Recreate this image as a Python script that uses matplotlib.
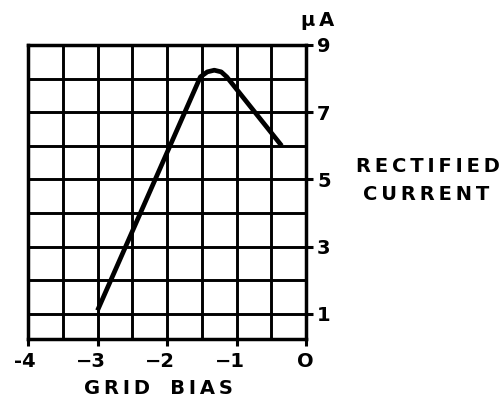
import numpy as np
import matplotlib
matplotlib.use("Agg")
from matplotlib import pyplot as plt
from matplotlib.transforms import offset_copy

# rectified current vs grid bias
grid_bias = [-3.0, -1.52, -1.42, -1.32, -1.22, -1.14, -0.35]
current_ua = [1.1, 8.05, 8.2, 8.25, 8.2, 8.05, 6.0]

x_ticks = [-4, -3, -2, -1, 0]
x_tick_labels = ["-4", "\u22123", "\u22122", "\u22121", "O"]
y_ticks = [1, 3, 5, 7, 9]
y_tick_labels = ["1", "3", "5", "7", "9"]

plt.rcParams['font.family'] = ['DejaVu Sans']
plt.rcParams['font.weight'] = 'bold'


def spaced(s):
    return "\u2009".join(s)


fig = plt.figure(figsize=(5.01, 4.01), dpi=100)
ax = fig.add_axes([28 / 501, (401 - 339) / 401, 278 / 501, 294 / 401])

ax.set_xlim(-4, 0)
ax.set_ylim(0.25, 9)

# grid every half volt and every microamp
ax.xaxis.remove_overlapping_locs = False
ax.yaxis.remove_overlapping_locs = False
ax.set_xticks(np.arange(-4, 0.01, 0.5), minor=True)
ax.set_yticks(np.arange(1, 9.01, 1), minor=True)
ax.grid(which='minor', color='black', linewidth=2.1)
ax.set_axisbelow(True)

for side in ax.spines.values():
    side.set_linewidth(2.5)

ax.set_xticks(x_ticks)
ax.set_xticklabels([])
ax.set_yticks(y_ticks)
ax.set_yticklabels(y_tick_labels, fontsize=14, fontweight='bold')
ax.yaxis.tick_right()
ax.tick_params(axis='both', which='major', direction='out', length=5,
               width=2.2, pad=3)
ax.tick_params(axis='both', which='minor', length=0)

# bias labels sit with the digit over the tick
lab_trans = offset_copy(ax.transData, fig=fig, x=8, y=-13, units='dots')
for xv, lab in zip(x_ticks, x_tick_labels):
    ax.text(xv, 0.25, lab, transform=lab_trans, ha='right', va='top',
            fontsize=14, fontweight='bold')

ax.plot(grid_bias, current_ua, color='black', linewidth=3.4,
        solid_joinstyle='round', solid_capstyle='butt')

fig.text(318 / 501, 1 - 20 / 401, "\u03bc" + "\u2009A", fontsize=14,
         fontweight='bold', ha='center', va='center')
fig.text(428 / 501, 1 - 167 / 401, spaced("RECTIFIED"), fontsize=14,
         fontweight='bold', ha='center', va='center')
fig.text(426 / 501, 1 - 195 / 401, spaced("CURRENT"), fontsize=14,
         fontweight='bold', ha='center', va='center')
fig.text(158 / 501, 1 - 388 / 401, spaced("GRID") + "   " + spaced("BIAS"),
         fontsize=14, fontweight='bold', ha='center', va='center')

fig.savefig("out.png", dpi=100)
